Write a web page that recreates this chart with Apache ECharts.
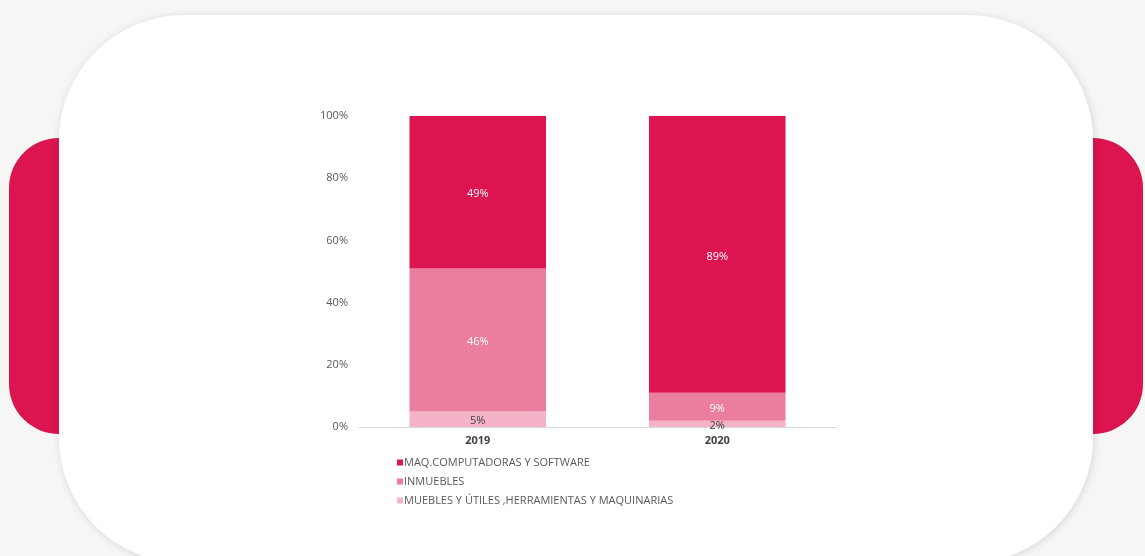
<!DOCTYPE html>
<html>
<head>
<meta charset="utf-8">
<script src="https://cdn.jsdelivr.net/npm/echarts@6/dist/echarts.min.js"></script>
<style>
html,body{margin:0;padding:0;background:#f6f6f4;}
#chart{width:1145px;height:556px;}
</style>
</head>
<body>
<div id="chart"></div>
<script>
var categories = ['2019', '2020'];
var seriesNames = ['MAQ.COMPUTADORAS Y SOFTWARE', 'INMUEBLES', 'MUEBLES Y ÚTILES ,HERRAMIENTAS Y MAQUINARIAS'];
var maqValues = [49, 89];
var inmueblesValues = [46, 9];
var mueblesValues = [5, 2];
var yTicks = [0, 20, 40, 60, 80, 100];
var colors = ['#dc1450', '#eb7e9e', '#f4b3c6'];

var FONT = 'Open Sans';
var chart = echarts.init(document.getElementById('chart'));

function mkSeries(name, data, color, labelColor) {
  return {
    name: name,
    type: 'bar',
    stack: 'total',
    data: data,
    barWidth: '57%',
    itemStyle: { color: color },
    label: {
      show: true,
      position: 'inside',
      offset: [0, 2],
      formatter: '{c}%',
      color: labelColor,
      fontFamily: FONT,
      fontSize: 11
    },
    emphasis: { disabled: true }
  };
}

chart.setOption({
  backgroundColor: '#f6f6f4',
  animation: false,
  graphic: [
    { type: 'rect', z: -20, shape: { x: 9, y: 138, width: 120, height: 296, r: 50 }, style: { fill: '#dc1450' } },
    { type: 'rect', z: -20, shape: { x: 1023, y: 138, width: 120, height: 296, r: 50 }, style: { fill: '#dc1450' } },
    { type: 'rect', z: -19, shape: { x: 59, y: 15, width: 1034, height: 548, r: 125 },
      style: { fill: '#ffffff', shadowBlur: 8, shadowColor: 'rgba(0,0,0,0.13)', shadowOffsetX: 1, shadowOffsetY: 1 } }
  ],
  grid: { left: 358, right: 308, top: 116, bottom: 129, containLabel: false },
  legend: {
    orient: 'vertical',
    left: 392,
    top: 452,
    itemWidth: 6,
    itemHeight: 6,
    itemGap: 8,
    icon: 'rect',
    data: seriesNames,
    textStyle: { fontFamily: FONT, fontSize: 11, color: '#595959', padding: [0, 0, 0, -4] }
  },
  xAxis: {
    type: 'category',
    data: categories,
    axisLine: { lineStyle: { color: '#d9d9d9' } },
    axisTick: { show: false },
    axisLabel: { fontFamily: FONT, fontSize: 11, fontWeight: 'bold', color: '#404040', margin: 8 }
  },
  yAxis: {
    type: 'value',
    min: yTicks[0],
    max: yTicks[yTicks.length - 1],
    interval: 20,
    splitLine: { show: false },
    axisLine: { show: false },
    axisTick: { show: false },
    axisLabel: { formatter: '{value}%', fontFamily: FONT, fontSize: 11, color: '#595959', margin: 10 }
  },
  series: [
    mkSeries(seriesNames[2], mueblesValues, colors[2], '#404040'),
    mkSeries(seriesNames[1], inmueblesValues, colors[1], '#ffffff'),
    mkSeries(seriesNames[0], maqValues, colors[0], '#ffffff')
  ]
});
</script>
</body>
</html>
